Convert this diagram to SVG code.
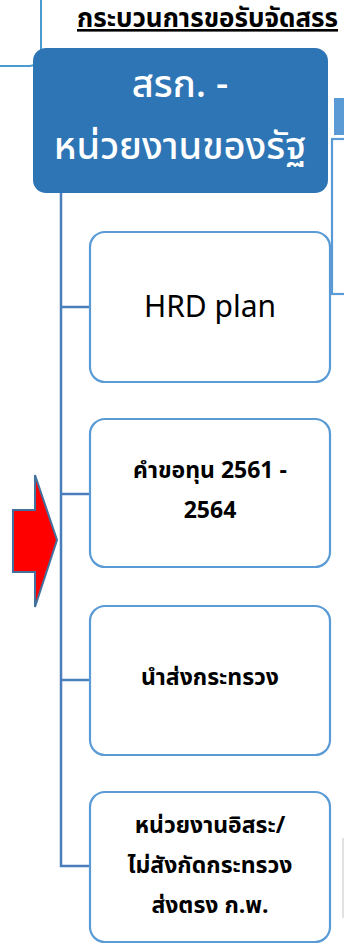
<svg xmlns="http://www.w3.org/2000/svg" width="344" height="944" viewBox="0 0 344 944">
<style>
.box{fill:#fff;stroke:#5b9bd5;stroke-width:2.2}
.conn{fill:none;stroke:#4a7ebb;stroke-width:2.5}
.t{font-family:"Noto Sans Thai","Noto Sans","Liberation Sans",sans-serif;fill:#000;text-anchor:middle}
.th{font-size:23px;font-weight:bold}
</style>
<rect width="344" height="944" fill="#fff"/>
<g id="prev-node">
<rect x="-60" y="-40" width="101" height="106" rx="12" fill="none" stroke="#4a9bd0" stroke-width="2"/>
</g>
<g id="title">
<text x="77" y="27" class="t" style="text-anchor:start;font-size:26px;font-weight:bold;text-decoration:underline">กระบวนการขอรับจัดสรร</text>
</g>
<g id="next-nodes">
<rect x="334" y="98" width="20" height="37" fill="#5b9bd5"/>
<rect x="332" y="139" width="30" height="155" fill="none" stroke="#5b9bd5" stroke-width="2.2"/>
<line x1="343" y1="838" x2="343" y2="918" stroke="#d9d9d9" stroke-width="1.5"/>
</g>
<g id="connectors">
<path class="conn" d="M61,193 V866 H90"/>
<line class="conn" x1="61" y1="307" x2="90" y2="307"/>
<line class="conn" x1="61" y1="494" x2="90" y2="494"/>
<line class="conn" x1="61" y1="680" x2="90" y2="680"/>
</g>
<g id="main">
<rect x="33" y="48" width="295" height="145" rx="13" fill="#2e75b6"/>
<text x="180" y="97" class="t" style="fill:#fff;font-size:38px;font-weight:500">สรก. -</text>
<text x="180" y="159" class="t" style="fill:#fff;font-size:38px;font-weight:500">หน่วยงานของรัฐ</text>
</g>
<g id="hrd">
<rect class="box" x="90" y="232" width="240" height="150" rx="15"/>
<text x="210" y="317" class="t" style="font-size:30px">HRD plan</text>
</g>
<g id="request">
<rect class="box" x="90" y="419" width="240" height="148" rx="15"/>
<text x="210" y="478" class="t th">คำขอทุน 2561 -</text>
<text x="210" y="518" class="t th">2564</text>
</g>
<g id="ministry">
<rect class="box" x="90" y="606" width="240" height="149" rx="15"/>
<text x="210" y="685" class="t th">นำส่งกระทรวง</text>
</g>
<g id="independent">
<rect class="box" x="90" y="792" width="240" height="150" rx="15"/>
<text x="210" y="833" class="t th">หน่วยงานอิสระ/</text>
<text x="210" y="873" class="t th">ไม่สังกัดกระทรวง</text>
<text x="210" y="913" class="t th">ส่งตรง ก.พ.</text>
</g>
<g id="arrow">
<path d="M13,510 L35,510 L35,475 L57,540 L35,607 L35,572 L13,572 Z" fill="#ff0000" stroke="#41719c" stroke-width="2"/>
</g>
</svg>
